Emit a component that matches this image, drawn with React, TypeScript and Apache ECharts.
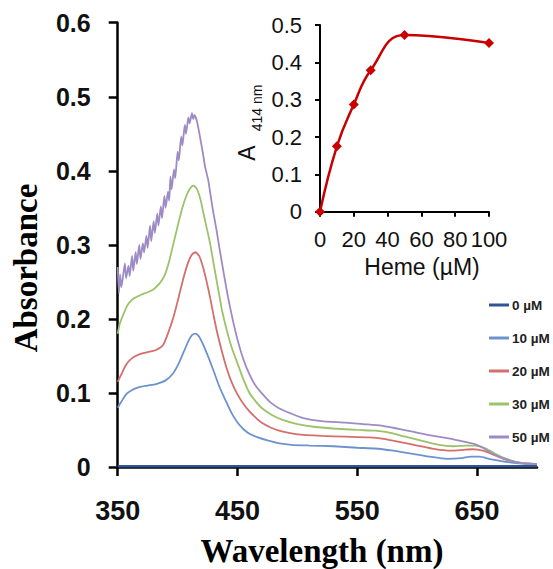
import React, { useEffect, useRef } from 'react';
import * as echarts from 'echarts';

const legendNames = ['0 µM', '10 µM', '20 µM', '30 µM', '50 µM'];
const lineColors = ['#2f5597', '#6d93cf', '#d46f6c', '#9cc26a', '#9e8bc4'];

const xTickValues = [350, 450, 550, 650];

const conc0 = [[350, 0.001], [450, 0.001], [550, 0.001], [650, 0.001], [700, 0.001]];

const conc10 = [[350, 0.08], [353, 0.088], [357, 0.098], [362, 0.104], [368, 0.108], [375, 0.11], [382, 0.112], [390, 0.117], [396, 0.126], [401, 0.14], [405, 0.155], [409, 0.17], [412, 0.178], [415, 0.18], [418, 0.176], [422, 0.163], [426, 0.147], [430, 0.13], [435, 0.108], [440, 0.09], [445, 0.073], [450, 0.06], [455, 0.051], [460, 0.045], [467, 0.04], [475, 0.036], [485, 0.032], [495, 0.03], [510, 0.029], [530, 0.028], [550, 0.026], [565, 0.025], [580, 0.022], [595, 0.018], [610, 0.014], [625, 0.011], [637, 0.012], [645, 0.014], [652, 0.014], [660, 0.011], [670, 0.008], [685, 0.005], [700, 0.003]];

const conc20 = [[350, 0.115], [353, 0.125], [357, 0.138], [362, 0.147], [368, 0.152], [375, 0.155], [382, 0.158], [388, 0.165], [393, 0.185], [397, 0.205], [401, 0.23], [405, 0.256], [409, 0.277], [412, 0.287], [415, 0.29], [418, 0.285], [421, 0.271], [424, 0.252], [427, 0.23], [430, 0.205], [433, 0.182], [437, 0.156], [441, 0.133], [445, 0.115], [450, 0.098], [455, 0.085], [460, 0.075], [465, 0.067], [470, 0.06], [478, 0.053], [487, 0.048], [500, 0.044], [520, 0.042], [540, 0.041], [560, 0.04], [572, 0.038], [585, 0.034], [600, 0.029], [615, 0.024], [628, 0.022], [638, 0.023], [646, 0.024], [655, 0.022], [663, 0.017], [672, 0.011], [685, 0.006], [700, 0.004]];

const conc30 = [[350, 0.18], [352, 0.195], [355, 0.207], [358, 0.218], [362, 0.226], [366, 0.23], [370, 0.233], [375, 0.236], [380, 0.24], [385, 0.248], [389, 0.258], [392, 0.272], [396, 0.298], [400, 0.325], [404, 0.35], [407, 0.365], [410, 0.375], [413, 0.38], [416, 0.376], [419, 0.362], [421, 0.347], [424, 0.325], [427, 0.303], [430, 0.275], [434, 0.239], [437, 0.212], [441, 0.185], [445, 0.162], [450, 0.14], [455, 0.118], [460, 0.1], [465, 0.089], [470, 0.08], [478, 0.071], [487, 0.064], [500, 0.058], [515, 0.054], [530, 0.052], [550, 0.05], [565, 0.049], [575, 0.047], [590, 0.041], [605, 0.035], [618, 0.03], [630, 0.028], [640, 0.029], [648, 0.029], [656, 0.026], [664, 0.019], [673, 0.012], [685, 0.006], [700, 0.004]];

const conc50 = [[350, 0.27], [351, 0.235], [352, 0.26], [353, 0.243], [354, 0.252], [356, 0.275], [357, 0.255], [359, 0.272], [360, 0.258], [362, 0.285], [363, 0.265], [365, 0.29], [366, 0.274], [368, 0.3], [369, 0.281], [371, 0.302], [372, 0.29], [374, 0.312], [375, 0.296], [377, 0.326], [378, 0.305], [380, 0.332], [381, 0.316], [383, 0.342], [384, 0.326], [386, 0.352], [387, 0.336], [389, 0.366], [390, 0.35], [392, 0.372], [393, 0.36], [394, 0.392], [395, 0.375], [397, 0.402], [398, 0.39], [400, 0.426], [401, 0.414], [403, 0.446], [404, 0.434], [406, 0.462], [407, 0.45], [409, 0.472], [410, 0.464], [412, 0.478], [413, 0.47], [414, 0.475], [416, 0.468], [418, 0.452], [421, 0.425], [423, 0.405], [425.5, 0.388], [428, 0.362], [430, 0.342], [432.5, 0.32], [435, 0.295], [439, 0.257], [442, 0.23], [446, 0.199], [450, 0.172], [455, 0.145], [460, 0.125], [465, 0.11], [470, 0.1], [477, 0.088], [485, 0.079], [495, 0.072], [505, 0.066], [520, 0.062], [540, 0.06], [555, 0.058], [570, 0.056], [580, 0.053], [595, 0.048], [610, 0.043], [625, 0.039], [640, 0.034], [648, 0.031], [656, 0.025], [664, 0.017], [673, 0.011], [685, 0.006], [700, 0.004]];

const hemeConc = [0, 10, 20, 30, 50, 100];
const a414 = [0, 0.175, 0.287, 0.379, 0.473, 0.452];

const spectra = [conc0, conc10, conc20, conc30, conc50];

const sans = "'Liberation Sans', Arial, sans-serif";
const serif = "'Liberation Serif', 'Times New Roman', serif";

export default function App() {
  const ref = useRef<HTMLDivElement>(null);
  useEffect(() => {
    const chart = echarts.init(ref.current as HTMLDivElement, null, { renderer: 'svg' });
    const axisLine = { show: true, onZero: false, lineStyle: { color: '#000', width: 2.5 } };
    const option: any = {
      animation: false,
      backgroundColor: '#fff',
      grid: [
        { left: 117.7, right: 16, top: 22.7, bottom: 102 },
        { left: 320, right: 64, top: 25, bottom: 357.3 },
      ],
      legend: {
        data: legendNames,
        orient: 'vertical',
        left: 489,
        top: 297,
        itemWidth: 20,
        itemHeight: 3,
        itemGap: 17,
        icon: 'rect',
        padding: 0,
        textStyle: { fontSize: 13.5, fontWeight: 'bold', color: '#222', fontFamily: sans, lineHeight: 16, padding: [0, 0, 0, -2] },
      },
      xAxis: [
        {
          gridIndex: 0, type: 'value', min: 350, max: 700,
          axisLine,
          axisTick: { show: true, inside: false, length: 9, customValues: xTickValues, lineStyle: { color: '#000', width: 2.5 } },
          axisLabel: { customValues: xTickValues, margin: 30, fontSize: 27, fontWeight: 'bold', color: '#111', fontFamily: sans },
          splitLine: { show: false },
        },
        {
          gridIndex: 1, type: 'value', min: 0, max: 100, interval: 20,
          axisLine: { show: true, onZero: false, lineStyle: { color: '#000', width: 2 } },
          axisTick: { show: true, length: 5, lineStyle: { color: '#000', width: 2 } },
          axisLabel: { margin: 17, fontSize: 22, color: '#111', fontFamily: sans },
          splitLine: { show: false },
        },
      ],
      yAxis: [
        {
          gridIndex: 0, type: 'value', min: 0, max: 0.6, interval: 0.1,
          axisLine,
          axisTick: { show: true, length: 9, lineStyle: { color: '#000', width: 2.5 } },
          axisLabel: { margin: 27, fontSize: 25, fontWeight: 'bold', color: '#111', fontFamily: sans, formatter: (v: number) => (v === 0 ? '0' : v.toFixed(1)) },
          splitLine: { show: false },
        },
        {
          gridIndex: 1, type: 'value', min: 0, max: 0.5, interval: 0.1,
          axisLine: { show: true, onZero: false, lineStyle: { color: '#000', width: 2 } },
          axisTick: { show: true, length: 5, lineStyle: { color: '#000', width: 2 } },
          axisLabel: { margin: 18, fontSize: 22, color: '#111', fontFamily: sans, formatter: (v: number) => (v === 0 ? '0' : v.toFixed(1)) },
          splitLine: { show: false },
        },
      ],
      series: [
        ...spectra.map((d, i) => ({
          name: legendNames[i],
          type: 'line',
          xAxisIndex: 0,
          yAxisIndex: 0,
          data: d,
          showSymbol: false,
          smooth: 0.2,
          lineStyle: { color: lineColors[i], width: i === 0 ? 2.5 : 1.8 },
          itemStyle: { color: lineColors[i] },
          z: i === 0 ? 3 : 2,
        })),
        {
          name: 'A414',
          type: 'line',
          xAxisIndex: 1,
          yAxisIndex: 1,
          data: hemeConc.map((c, i) => [c, a414[i]]),
          smooth: 0.45,
          symbol: 'diamond',
          symbolSize: 10,
          showSymbol: true,
          lineStyle: { color: '#c80000', width: 2.5 },
          itemStyle: { color: '#c80000' },
        },
      ],
      graphic: [
        { type: 'text', x: 26, y: 268, rotation: Math.PI / 2, style: { text: 'Absorbance', font: `bold 33px ${serif}`, fill: '#000', align: 'center', verticalAlign: 'middle' } },
        { type: 'text', x: 322, y: 551, style: { text: 'Wavelength (nm)', font: `bold 33px ${serif}`, fill: '#000', align: 'center', verticalAlign: 'middle' } },
        { type: 'text', x: 247, y: 153, rotation: Math.PI / 2, style: { text: 'A', font: `23px ${sans}`, fill: '#111', align: 'center', verticalAlign: 'middle' } },
        { type: 'text', x: 257, y: 108, rotation: Math.PI / 2, style: { text: '414 nm', font: `14px ${sans}`, fill: '#111', align: 'center', verticalAlign: 'middle' } },
        { type: 'text', x: 422, y: 267, style: { text: 'Heme (µM)', font: `23px ${sans}`, fill: '#111', align: 'center', verticalAlign: 'middle' } },
      ],
    };
    chart.setOption(option);
    return () => chart.dispose();
  }, []);
  return <div ref={ref} style={{ position: 'fixed', left: 0, top: 0, width: 553, height: 569, background: '#fff' }} />;
}
